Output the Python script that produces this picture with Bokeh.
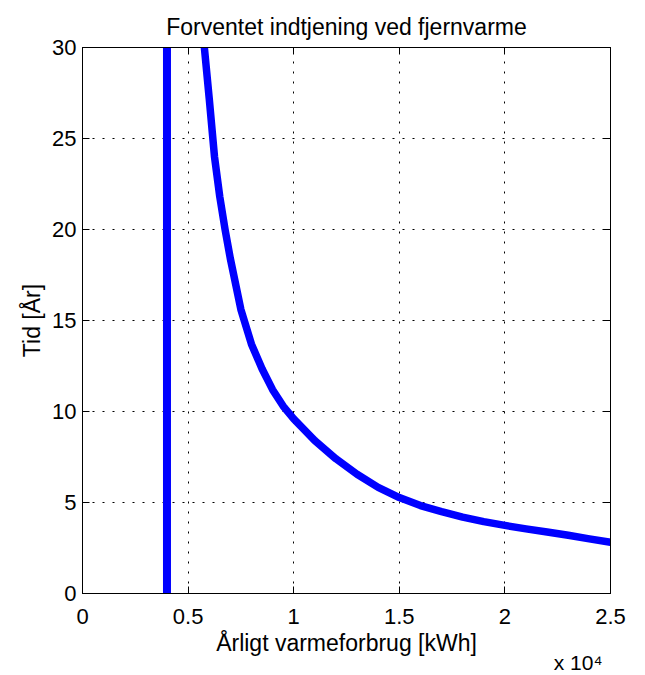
from bokeh.plotting import figure
from bokeh.models import Range1d, LinearAxis, FixedTicker, Title
from bokeh.embed import file_html
from bokeh.resources import INLINE

# --- data ---
consumption_kwh = [5770, 6000, 6250, 6500, 6750, 7000, 7500, 8000, 8500, 9000,
                   9500, 10000, 11000, 12000, 13000, 14000, 15000, 16000, 17000,
                   18000, 19000, 20000, 21000, 22000, 23000, 24000, 25000]
payback_years = [30.0, 27.2, 24.0, 21.8, 20.0, 18.4, 15.6, 13.7, 12.35, 11.2,
                 10.3, 9.6, 8.4, 7.4, 6.55, 5.83, 5.27, 4.83, 4.5, 4.2,
                 3.95, 3.74, 3.55, 3.38, 3.2, 3.0, 2.82]
limit_x = [4000]
limit_y0 = [0]
limit_y1 = [30]

x_ticks = [0, 5000, 10000, 15000, 20000, 25000]
x_tick_labels = ["0", "0.5", "1", "1.5", "2", "2.5"]
y_ticks = [0, 5, 10, 15, 20, 25, 30]

FONT = "Liberation Sans"
BLUE = "#0000FF"

p = figure(width=640, height=673, output_backend="svg", toolbar_location=None,
           title=None,
           x_range=Range1d(0, 25000), y_range=Range1d(0, 30),
           min_border_left=82, min_border_right=30, min_border_top=47,
           min_border_bottom=80)
p.background_fill_color = "white"
p.border_fill_color = "white"
p.outline_line_color = "black"
p.outline_line_width = 1

p.segment(x0=limit_x, y0=limit_y0, x1=limit_x, y1=limit_y1,
          line_color=BLUE, line_width=8)
p.line(consumption_kwh, payback_years, line_color=BLUE, line_width=7.5,
       line_join="round", line_cap="round")

xa = p.xaxis[0]
ya = p.yaxis[0]
xa.ticker = FixedTicker(ticks=x_ticks)
xa.major_label_overrides = {t: l for t, l in zip(x_ticks, x_tick_labels)}
ya.ticker = FixedTicker(ticks=y_ticks)
xa.axis_label = "Årligt varmeforbrug [kWh]"
ya.axis_label = "Tid [År]"
for ax in (xa, ya):
    ax.major_label_text_font = FONT
    ax.major_label_text_font_size = "22px"
    ax.major_label_text_color = "black"
    ax.axis_label_text_font = FONT
    ax.axis_label_text_font_size = "23px"
    ax.axis_label_text_font_style = "normal"
    ax.axis_label_text_color = "black"
    ax.major_tick_in = 7
    ax.major_tick_out = 0
    ax.minor_tick_in = 0
    ax.minor_tick_out = 0
    ax.axis_line_color = "black"
    ax.major_tick_line_color = "black"
xa.major_label_standoff = 15
xa.axis_label_standoff = 3
ya.major_label_standoff = 6
ya.axis_label_standoff = 4

# mirrored ticks on top and right like the original (no labels)
top = LinearAxis(ticker=FixedTicker(ticks=x_ticks),
                 major_label_overrides={t: "" for t in x_ticks},
                 major_label_text_font_size="1px",
                 major_tick_in=7, major_tick_out=0, minor_tick_in=0, minor_tick_out=0,
                 axis_line_color="black", major_tick_line_color="black",
                 major_label_standoff=0)
right = LinearAxis(ticker=FixedTicker(ticks=y_ticks),
                   major_label_overrides={t: "" for t in y_ticks},
                   major_label_text_font_size="1px",
                   major_tick_in=7, major_tick_out=0, minor_tick_in=0, minor_tick_out=0,
                   axis_line_color="black", major_tick_line_color="black",
                   major_label_standoff=0)
p.add_layout(top, "above")
p.add_layout(right, "right")

# title added after the top axis so it sits outside it
p.add_layout(Title(text="Forventet indtjening ved fjernvarme", align="center",
                   text_font=FONT, text_font_size="23px", text_font_style="normal",
                   text_color="black", standoff=15), "above")

for g in p.grid:
    g.grid_line_color = "black"
    g.grid_line_dash = "2 8"
    g.grid_line_width = 1
p.xgrid.ticker = FixedTicker(ticks=x_ticks)
p.ygrid.ticker = FixedTicker(ticks=y_ticks)

# axis multiplier "x 10^4"
p.add_layout(Title(text="x 10⁴", align="right", offset=8, standoff=-19,
                   text_font=FONT, text_font_size="21px",
                   text_font_style="normal", text_color="black"), "below")

open("out.html", "w").write(file_html(p, INLINE))
